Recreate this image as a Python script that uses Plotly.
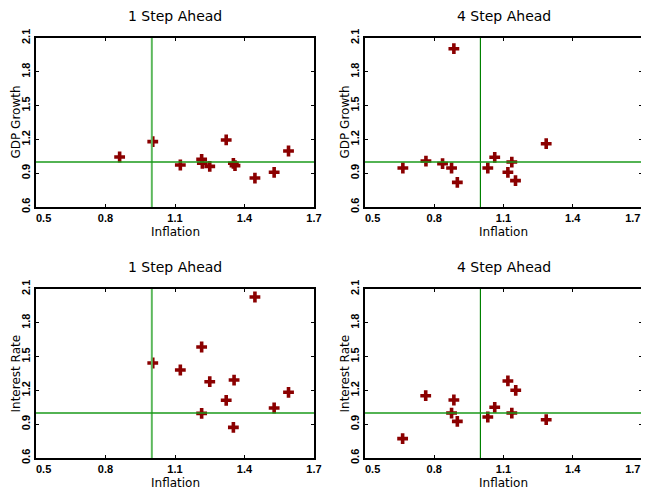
import plotly.graph_objects as go

# ---- data ----
tl_infl = [0.861, 1.004, 1.123, 1.215, 1.218, 1.250, 1.321, 1.352, 1.359, 1.445, 1.528, 1.590]
tl_gdp  = [1.044, 1.180, 0.973, 1.023, 0.988, 0.961, 1.195, 0.988, 0.967, 0.857, 0.908, 1.097]

tr_infl = [0.885, 0.664, 0.764, 0.836, 0.875, 0.900, 1.032, 1.062, 1.119, 1.136, 1.152, 1.285]
tr_gdp  = [2.005, 0.946, 1.008, 0.985, 0.946, 0.819, 0.946, 1.041, 0.908, 0.999, 0.834, 1.162]

bl_infl = [1.445, 1.215, 1.004, 1.123, 1.250, 1.355, 1.590, 1.321, 1.528, 1.215, 1.352]
bl_rate = [2.029, 1.585, 1.443, 1.381, 1.277, 1.292, 1.183, 1.112, 1.044, 0.996, 0.872]

br_infl = [0.663, 0.763, 0.885, 0.875, 0.900, 1.032, 1.062, 1.119, 1.153, 1.136, 1.285]
br_rate = [0.772, 1.153, 1.115, 0.999, 0.925, 0.964, 1.050, 1.284, 1.201, 0.999, 0.940]

titles = ["1 Step Ahead", "4 Step Ahead", "1 Step Ahead", "4 Step Ahead"]
ylabels = ["GDP Growth", "GDP Growth", "Interest Rate", "Interest Rate"]
xlabel = "Inflation"
x_ticks = [0.5, 0.8, 1.1, 1.4, 1.7]
y_ticks = [0.6, 0.9, 1.2, 1.5, 1.8, 2.1]
ref_x = 1.0
ref_y = 1.0

OFF = 8  # default page body margin
W, H = 649 - OFF, 489 - OFF
panels = [
    (tl_infl, tl_gdp, (36, 314), (38, 207)),
    (tr_infl, tr_gdp, (365, 642), (38, 207)),
    (bl_infl, bl_rate, (36, 314), (289, 458)),
    (br_infl, br_rate, (365, 642), (289, 458)),
]


def px(p):
    return (p - OFF) / W


def py(p):
    return 1 - (p - OFF) / H


NB = "\u00a0"


def xtext(right_panel):
    out = []
    for k, v in enumerate(x_ticks):
        s = f"{v:.1f}"
        if k == 0:
            s = NB * 5 + s          # keep first label inside the frame
        elif k == len(x_ticks) - 1 and right_panel:
            s = s + NB * 6          # keep last label inside the page
        out.append(s)
    return out


fig = go.Figure()
font = "DejaVu Sans"
annotations = []
shapes = []
layout = {}
for i, (xs, ys, (x0, x1), (y0, y1)) in enumerate(panels):
    n = "" if i == 0 else str(i + 1)
    xa, ya = "x" + n, "y" + n
    fig.add_trace(go.Scatter(
        x=xs, y=ys, mode="markers", xaxis=xa, yaxis=ya, showlegend=False,
        marker=dict(symbol="cross", size=9, color="#8b0000",
                    line=dict(width=0)),
    ))
    common = dict(showline=True, linecolor="black", linewidth=2, mirror="ticks",
                  ticks="inside", ticklen=3, tickwidth=1, tickcolor="black",
                  showgrid=False, zeroline=False, automargin=False,
                  ticklabeloverflow="allow",
                  tickfont=dict(family="Liberation Sans", size=11, color="black",
                                weight="bold"))
    layout["xaxis" + n] = dict(domain=[px(x0), px(x1)], range=[0.5, 1.7],
                               tickvals=x_ticks, ticktext=xtext(i in (1, 3)),
                               anchor=ya, **common)
    layout["yaxis" + n] = dict(domain=[py(y1), py(y0)], range=[0.6, 2.1],
                               tickvals=y_ticks, ticktext=[f"{v:.1f}" for v in y_ticks],
                               tickangle=-90, anchor=xa, **common)
    col = "#5cb85c" if i in (0, 2) else "#008000"
    wid = 2 if i in (0, 2) else 1.2
    shapes.append(dict(type="line", xref=xa, yref=ya + " domain", x0=ref_x, x1=ref_x,
                       y0=0, y1=1, line=dict(color=col, width=wid), layer="above"))
    shapes.append(dict(type="line", xref=xa + " domain", yref=ya, x0=0, x1=1,
                       y0=ref_y, y1=ref_y, line=dict(color="#1a9a1a", width=1.5), layer="above"))
    cx = (x0 + x1) / 2
    annotations.append(dict(text=titles[i], x=px(cx), y=py(y0 - 22), xref="paper",
                            yref="paper", showarrow=False, xanchor="center", yanchor="middle",
                            font=dict(family=font, size=14, color="black")))
    annotations.append(dict(text=xlabel, x=px(cx), y=py(y1 + 25), xref="paper",
                            yref="paper", showarrow=False, xanchor="center", yanchor="middle",
                            font=dict(family=font, size=12, color="black")))
    annotations.append(dict(text=ylabels[i], x=px(x0 - 21), y=py((y0 + y1) / 2),
                            xref="paper", yref="paper", showarrow=False, textangle=-90,
                            xanchor="center", yanchor="middle",
                            font=dict(family=font, size=12, color="black")))

fig.update_layout(width=W, height=H, margin=dict(l=0, r=0, t=0, b=0),
                  paper_bgcolor="white", plot_bgcolor="white",
                  annotations=annotations, shapes=shapes, **layout)
fig.write_html("out.html")
